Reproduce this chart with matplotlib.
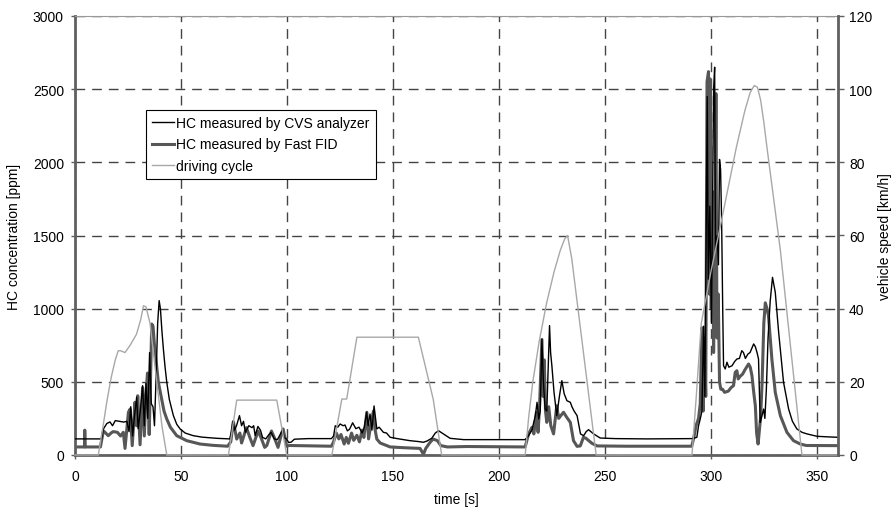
# HC concentration vs driving cycle

import matplotlib
matplotlib.use("Agg")
import matplotlib.pyplot as plt

plt.rcParams['font.family'] = ['Liberation Sans', 'DejaVu Sans']
plt.rcParams['font.size'] = 10

# driving cycle [s], [km/h]
t_speed = [0, 11, 13, 15, 17, 19, 20.4, 21.5, 23.6, 26, 29, 31, 32.3, 33.5, 35.4, 37, 39, 41, 43.3,
           72.4, 76.3, 95.2, 99.9,
           121.2, 125.9, 128.2, 133, 162, 169, 173,
           212.4, 214, 216, 219, 222.5, 226, 229, 231, 232.4, 234.4, 245.9,
           291.1, 293, 295.5, 300, 305, 312, 316, 318.5, 320.5, 322, 323.5, 325, 326.5, 332.8, 343, 360]
speed = [0, 0, 7, 14.5, 21, 26, 28.5, 28.5, 28, 30, 33, 37, 40.8, 40.5, 36, 28, 18, 8, 0,
         0, 15, 15, 0,
         0, 15.3, 15.3, 32.2, 32.2, 15.3, 0,
         0, 10, 20, 31, 41.5, 50, 56, 59, 60, 53.6, 0,
         0, 15, 36, 50, 64, 84, 94, 99, 101, 100.5, 97, 91, 84, 56, 0, 0]

# HC by CVS analyzer [s], [ppm]
t_cvs = [0, 12.5, 13.4, 15, 16.5, 17.7, 19, 21, 23, 24.5, 25.5, 26.3, 27.2, 28, 29.1, 29.8, 30.8,
         31.9, 32.7, 33.5, 34.3, 35.2, 36, 36.8, 37.5, 38.3, 39, 39.7, 40.3, 41, 41.7, 42.5, 43.3,
         44.5, 46.4, 48, 49.6, 52, 55.8, 60, 66.9, 73,
         73.8, 74.5, 75.3, 76.2, 77.6, 78.6, 79.5, 80.4, 82, 83.5, 84.3, 85, 86.3, 87.5, 88.5, 90,
         91.5, 92.5, 94, 95.5, 96.8, 97.8, 98.7, 99.9, 100.8, 102, 103.5, 110, 121,
         122, 122.8, 124, 125.1, 126.5, 127.4, 128.5, 129.5, 131, 132.5, 134, 135.5, 136.5, 137.6,
         138.3, 139.2, 140.1, 141.1, 142.4, 143.5, 145.5, 147, 148.7, 152, 158, 162, 164.4, 166,
         168.3, 170, 171.5, 173.8, 177, 183.4, 205, 212.4,
         214, 215.6, 217.2, 218, 218.8, 219.5, 220.3, 221, 221.8, 222.6, 223.9, 224.4, 225, 226,
         227.3, 228.6, 229.7, 230.8, 232.1, 233.7, 234.5, 235.5, 236.9, 238.5, 240, 241.2, 242.3,
         244.7, 247.8, 255, 270, 291,
         292, 293.4, 294.2, 295, 295.8, 296.6, 297.2, 298.3, 298.8, 299.5, 300.3, 301.3, 301.8,
         302.2, 303, 303.6, 304.1, 304.6, 305.1, 305.6, 306, 306.8, 307.6, 308.5, 310, 311.3,
         312.3, 313.5, 314.6, 315.4, 316.3, 317.5, 318.5, 320.2, 321, 321.8, 322.5, 323.3, 323.8,
         324.9, 325.5, 326.2, 327, 328, 329.1, 330.4, 332, 334.3, 336.7, 338.5, 340.6, 343, 345.4,
         350, 355, 360]
cvs = [110, 110, 178, 215, 226, 200, 235, 230, 225, 230, 160, 330, 130, 260, 395, 180, 300,
       474, 200, 490, 250, 700, 350, 330, 200, 550, 900, 1055, 1000, 850, 724, 600, 497,
       380, 270, 210, 178, 150, 132, 122, 114, 110,
       160, 230, 170, 200, 269, 200, 230, 155, 200, 187, 200, 132, 195, 170, 120, 110,
       140, 155, 110, 105, 140, 170, 120, 109, 85, 88, 108, 112, 112,
       130, 200, 190, 212, 200, 205, 165, 175, 220, 180, 190, 150, 190, 292,
       200, 280, 170, 335, 178, 190, 155, 150, 121, 112, 98, 92, 87, 95,
       114, 150, 166, 144, 114, 105, 105, 105,
       132, 171, 269, 360, 246, 300, 790, 500, 314, 300, 884, 700, 610, 430,
       269, 405, 508, 419, 371, 360, 329, 300, 269, 144, 132, 160, 173,
       144, 116, 112, 110, 112,
       115, 121, 200, 246, 300, 880, 400, 2450, 1200, 1700, 900, 2500, 2650,
       1400, 1500, 1300, 2020, 1950, 1590, 1000, 610, 588, 634, 600, 610, 640,
       656, 660, 713, 700, 660, 690, 700, 759, 740, 700, 656, 223, 250,
       314, 250, 450, 800, 1050, 1214, 1112, 838, 497, 314, 230, 178, 155, 144,
       128, 124, 121]

# HC by Fast FID [s], [ppm]
t_fid = [0, 4.5, 4.6, 4.8, 12, 13.4, 14.5, 15.7, 17, 18, 20, 21.5, 22.8, 23.6, 25.2, 26, 27,
         28.3, 29, 29.6, 30.7, 31.9, 32.7, 33.5, 34.2, 35, 35.6, 36.2, 36.8, 37.5, 38.3, 39.3,
         40.9, 42, 43.3, 45, 48, 52.7, 59, 65, 72,
         73.5, 74.7, 76.3, 77.8, 78.6, 80.9, 82.5, 84, 86.4, 88, 89.5, 90.5, 92.7, 94, 95.8, 97,
         98.2, 99.2, 99.9, 101, 110, 121,
         122, 123.3, 124.5, 125.5, 127, 128, 129, 130.5, 131.5, 133, 134.2, 135.5, 136.3, 137.7,
         138.5, 139.5, 140.8, 141.5, 142.4, 144, 148.7, 155, 162.8, 164.4, 165.5, 167.5, 169,
         171, 172.6, 175.7, 185, 212.4,
         214, 215.6, 216.5, 217.7, 218.5, 219.2, 220.3, 220.9, 221.4, 222, 222.6, 223.5, 224.5,
         225.8, 227.3, 228.2, 229.2, 230.5, 232, 233.7, 235.2, 236.9, 238.4, 239.9, 241, 243.9,
         246.3, 260, 291,
         292, 293, 294.2, 295, 295.8, 296.4, 297, 297.6, 298.2, 298.9, 299.3, 299.7, 300.2,
         300.8, 301.3, 302, 302.4, 302.9, 303.5, 304.1, 304.7, 305.5, 306.5, 308.3, 309.5,
         310.7, 311.5, 312.3, 312.9, 314, 315, 316, 317.8, 318.6, 319.4, 320.3, 321, 321.6,
         322.3, 323, 323.5, 324.2, 325, 325.7, 326.5, 327.2, 328, 328.8, 330.4, 332.8, 335.9,
         339, 342.2, 345, 360]
fid = [55, 55, 170, 55, 55, 166, 150, 132, 150, 160, 155, 130, 155, 45, 292, 314, 64,
       360, 200, 405, 70, 460, 130, 420, 560, 140, 500, 895, 880, 750, 640, 500,
       383, 300, 246, 190, 132, 98, 75, 66, 60,
       90, 228, 109, 150, 82, 187, 120, 64, 164, 110, 52, 65, 164, 120, 52, 120,
       178, 110, 60, 65, 63, 60,
       90, 150, 110, 140, 75, 120, 80, 150, 100, 135, 90, 170, 120, 292,
       110, 200, 300, 180, 109, 82, 55, 50, 45, 5, 45, 86, 109,
       98, 64, 55, 58, 55,
       144, 189, 144, 292, 155, 337, 790, 400, 650, 300, 223, 330, 200,
       144, 337, 250, 269, 292, 258, 223, 98, 59, 62, 121, 115, 80,
       62, 60, 60,
       120, 200, 250, 350, 870, 300, 800, 400, 2550, 2620, 1100, 2570, 1000,
       1800, 700, 1500, 2470, 800, 1100, 500, 450, 450, 428, 437, 460,
       474, 565, 576, 520, 540, 553, 580, 622, 600, 542, 420, 337, 150,
       75, 180, 260, 500, 900, 1040, 1000, 952, 800, 656, 428, 269, 155,
       98, 75, 65, 64]

x_ticks = [0, 50, 100, 150, 200, 250, 300, 350]
y_ticks = [0, 500, 1000, 1500, 2000, 2500, 3000]
y2_ticks = [0, 20, 40, 60, 80, 100, 120]

fig = plt.figure(figsize=(8.93, 5.10), dpi=100)
ax = fig.add_axes([75 / 893, 54 / 510, 763 / 893, 439 / 510])

ax.plot(t_cvs, cvs, color="black", lw=1.0, label="HC measured by CVS analyzer", zorder=3)
ax.plot(t_fid, fid, color="#575757", lw=2.2, label="HC measured by Fast FID", zorder=2)

ax.set_xlim(0, 360)
ax.set_ylim(0, 3000)
ax.set_xticks(x_ticks)
ax.set_yticks(y_ticks)
ax.grid(True, color="#444444", lw=1.0, linestyle=(0, (7, 5)))
ax.set_axisbelow(True)

for s in ["left", "bottom"]:
    ax.spines[s].set_color("#606060")
    ax.spines[s].set_linewidth(2.0)
ax.spines["top"].set_color("#999999")
ax.spines["top"].set_linewidth(0.8)
ax.spines["right"].set_visible(False)
ax.tick_params(axis="both", direction="out", length=3, width=1, color="#606060")
ax.tick_params(axis="x", pad=7)
ax.tick_params(axis="y", pad=5)

ax.set_xlabel("time [s]")
ax.xaxis.set_label_coords(0.5, -0.085)
ax.set_ylabel("HC concentration [ppm]")
ax.yaxis.set_label_coords(-0.071, 0.5)

# secondary axis: vehicle speed
ax2 = ax.twinx()
ax2.plot(t_speed, speed, color="#a8a8a8", lw=1.0, label="driving cycle", clip_on=False)
ax2.set_ylim(0, 120)
ax2.set_yticks(y2_ticks)
ax2.spines["right"].set_color("#606060")
ax2.spines["right"].set_linewidth(2.0)
for s in ["left", "top", "bottom"]:
    ax2.spines[s].set_visible(False)
ax2.tick_params(axis="y", direction="out", length=4, width=1, color="#606060", pad=4)
ax2.set_ylabel("vehicle speed [km/h]", rotation=90)
ax2.yaxis.set_label_coords(1.052, 0.5)

# legend
h1, l1 = ax.get_legend_handles_labels()
h2, l2 = ax2.get_legend_handles_labels()
leg = ax2.legend(h1 + h2, l1 + l2, loc="upper left", bbox_to_anchor=(0.0927, 0.787),
                 borderaxespad=0, fancybox=False, framealpha=1, edgecolor="black",
                 handlelength=1.6, handletextpad=0.15, labelspacing=0.55,
                 borderpad=0.45, fontsize=10)
leg.get_frame().set_linewidth(0.8)

fig.savefig("out.png", dpi=100)
